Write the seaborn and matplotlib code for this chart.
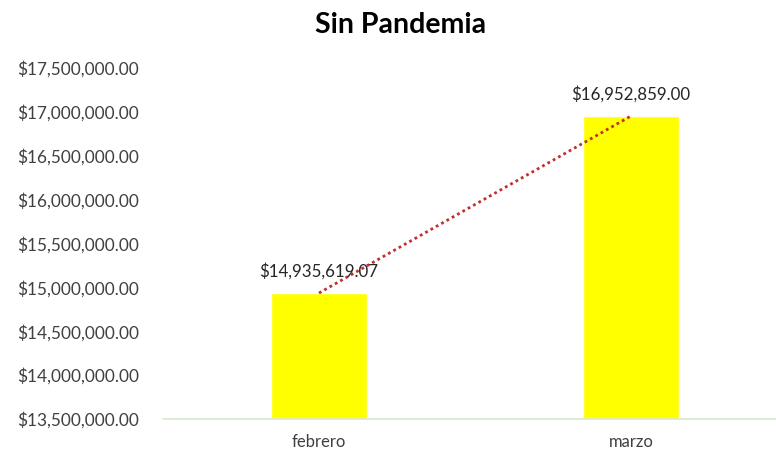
import matplotlib
matplotlib.use("Agg")
import matplotlib.pyplot as plt
import matplotlib.ticker as mticker
import numpy as np
import pandas as pd
import seaborn as sns

months = ["febrero", "marzo"]
sales = [14935619.07, 16952859.00]
title = "Sin Pandemia"

sns.set_theme(style="white")
plt.rcParams["font.family"] = ["Lato", "DejaVu Sans"]

df = pd.DataFrame({"mes": months, "ventas": sales})

fig = plt.figure(figsize=(7.76, 4.55), dpi=100)
ax = fig.add_axes([163 / 776, 1 - 419 / 455, 613 / 776, (419 - 68) / 455])

sns.barplot(data=df, x="mes", y="ventas", color="#FFFF00", saturation=1,
            width=0.31, ax=ax)

# linear trend through the monthly totals
xs = np.arange(len(sales))
coef = np.polyfit(xs, sales, 1)
ax.plot(xs, np.polyval(coef, xs), linestyle=(0, (1, 1.2)), color="#C0302A",
        linewidth=2.0)

for i, v in enumerate(sales):
    ax.text(i, v + 150000, f"${v:,.2f}", ha="center", va="bottom",
            fontsize=12.2, color="#262626")

ax.set_ylim(13500000, 17500000)
ax.set_xlim(-0.5, 1.465)
ax.yaxis.set_major_locator(mticker.MultipleLocator(500000))
ax.yaxis.set_major_formatter(mticker.FuncFormatter(lambda v, p: f"${v:,.2f}"))
ax.tick_params(axis="y", labelsize=12.4, labelcolor="#404040", length=0, pad=17)
ax.tick_params(axis="x", labelsize=12, labelcolor="#404040", length=0, pad=11)
ax.set_xlabel("")
ax.set_ylabel("")
for s in ["top", "right", "left"]:
    ax.spines[s].set_visible(False)
ax.spines["bottom"].set_color("#D9EAD0")
ax.spines["bottom"].set_linewidth(1.2)

fig.text(401 / 776, 1 - 25 / 455, title, ha="center", va="center",
         fontsize=20.5, fontweight="bold", color="#000000")

fig.savefig("out.png", dpi=100, facecolor="white")
